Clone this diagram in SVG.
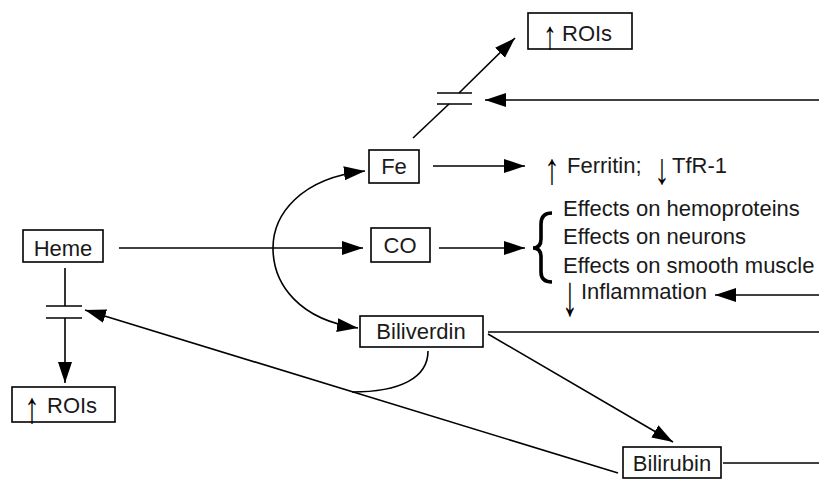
<svg xmlns="http://www.w3.org/2000/svg" width="819" height="480" viewBox="0 0 819 480">
  <style>
    .box { fill: #fff; stroke: #000; stroke-width: 1.6; }
    .lbl { font-family: "Liberation Sans", Arial, sans-serif; font-size: 22px; fill: #1a1a1a; }
    .sym { font-family: "Liberation Sans", Arial, sans-serif; fill: #000; text-anchor: middle; }
    .mid { text-anchor: middle; }
    .ln { fill: none; stroke: #000; stroke-width: 1.6; }
    .arr { fill: none; stroke: #000; stroke-width: 1.6; marker-end: url(#head); }
  </style>
  <defs>
    <marker id="head" markerUnits="userSpaceOnUse" markerWidth="22" markerHeight="16" refX="21" refY="7" orient="auto">
      <path d="M0,0 L21,7 L0,14 z" fill="#000"/>
    </marker>
    <marker id="headStart" markerUnits="userSpaceOnUse" markerWidth="22" markerHeight="16" refX="21" refY="7" orient="auto-start-reverse">
      <path d="M0,0 L21,7 L0,14 z" fill="#000"/>
    </marker>
  </defs>

  <g id="connectors">
    <!-- Heme to CO -->
    <line class="arr" x1="119" y1="248" x2="363" y2="248"/>
    <!-- split arc: Fe above, Biliverdin below -->
    <path class="ln" d="M365,171 C300,178 273,215 273,248 C273,285 300,320 358,328" marker-start="url(#headStart)" marker-end="url(#head)"/>
    <!-- Fe to ferritin / TfR-1 -->
    <line class="arr" x1="433" y1="166" x2="525" y2="166"/>
    <!-- CO to effects -->
    <line class="arr" x1="439" y1="248" x2="525" y2="248"/>
    <!-- Fe to ROIs, interrupted -->
    <line class="ln" x1="413" y1="138" x2="449" y2="104"/>
    <line class="ln" x1="437" y1="93" x2="472" y2="93"/>
    <line class="ln" x1="437" y1="104" x2="472" y2="104"/>
    <line class="arr" x1="459" y1="93" x2="515" y2="38"/>
    <line class="arr" x1="819" y1="100" x2="485" y2="100"/>
    <!-- inhibition of inflammation -->
    <line class="arr" x1="819" y1="295" x2="715" y2="295"/>
    <!-- Biliverdin outputs -->
    <line class="ln" x1="488" y1="332" x2="819" y2="332"/>
    <line class="arr" x1="488" y1="334" x2="673" y2="442"/>
    <path class="ln" d="M428,351 C428,378 400,392 352,392"/>
    <!-- Bilirubin outputs -->
    <line class="ln" x1="723" y1="463" x2="819" y2="463"/>
    <line class="arr" x1="618" y1="473" x2="85" y2="310"/>
    <!-- Heme to ROIs, interrupted -->
    <line class="ln" x1="65" y1="268" x2="65" y2="306"/>
    <line class="ln" x1="46" y1="306" x2="82" y2="306"/>
    <line class="ln" x1="46" y1="318" x2="82" y2="318"/>
    <line class="arr" x1="65" y1="318" x2="65" y2="383"/>
    <!-- brace grouping the CO effects -->
    <path d="M552,213 C545,213 541,216 541,224 L541,239 C541,245 538,248 533,248 C538,248 541,251 541,257 L541,272 C541,279 545,282 552,282" fill="none" stroke="#000" stroke-width="3.6"/>
  </g>

  <g id="heme">
    <rect class="box" x="23" y="230" width="80" height="32"/>
    <text class="lbl mid" x="63" y="256">Heme</text>
  </g>

  <g id="rois-heme">
    <rect class="box" x="12" y="387" width="103" height="35"/>
    <text class="sym" font-size="44" transform="translate(32,423) scale(0.7,1)">↑</text>
    <text class="lbl" x="47" y="413">ROIs</text>
  </g>

  <g id="fe">
    <rect class="box" x="369" y="150" width="50" height="33"/>
    <text class="lbl mid" x="394" y="174">Fe</text>
  </g>

  <g id="rois-fe">
    <rect class="box" x="528" y="13" width="104" height="36"/>
    <text class="sym" font-size="40" transform="translate(550,49) scale(0.7,1)">↑</text>
    <text class="lbl" x="562" y="41">ROIs</text>
  </g>

  <g id="ferritin">
    <text class="sym" font-size="44" transform="translate(552,184) scale(0.7,1)">↑</text>
    <text class="lbl" x="567" y="173">Ferritin;</text>
    <text class="sym" font-size="44" transform="translate(662,184) scale(0.7,1)">↓</text>
    <text class="lbl" x="672" y="173">TfR-1</text>
  </g>

  <g id="co">
    <rect class="box" x="371" y="228" width="59" height="34"/>
    <text class="lbl mid" x="400" y="253">CO</text>
  </g>

  <g id="effects">
    <text class="lbl" x="563" y="216">Effects on hemoproteins</text>
    <text class="lbl" x="563" y="244">Effects on neurons</text>
    <text class="lbl" x="563" y="273">Effects on smooth muscle</text>
  </g>

  <g id="inflammation">
    <text class="sym" font-size="58" transform="translate(570,315) scale(0.55,1)">↓</text>
    <text class="lbl" x="581" y="299">Inflammation</text>
  </g>

  <g id="biliverdin">
    <rect class="box" x="360" y="316" width="123" height="31"/>
    <text class="lbl mid" x="421" y="339">Biliverdin</text>
  </g>

  <g id="bilirubin">
    <rect class="box" x="623" y="447" width="98" height="31"/>
    <text class="lbl mid" x="672" y="471">Bilirubin</text>
  </g>
</svg>
